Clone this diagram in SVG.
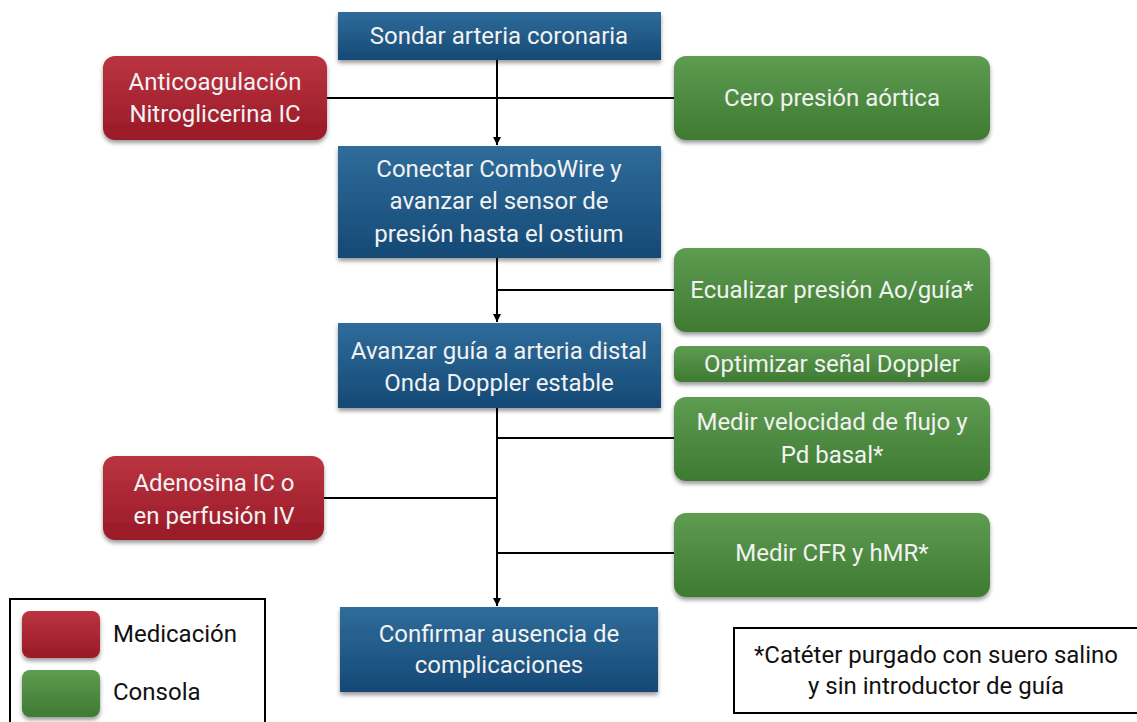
<svg xmlns="http://www.w3.org/2000/svg" width="1137" height="722" viewBox="0 0 1137 722">
<defs>
<linearGradient id="gBlue" x1="0" y1="0" x2="0" y2="1">
<stop offset="0" stop-color="#2f6c9b"/><stop offset="1" stop-color="#154975"/>
</linearGradient>
<linearGradient id="gGreen" x1="0" y1="0" x2="0" y2="1">
<stop offset="0" stop-color="#5e9c51"/><stop offset="1" stop-color="#3e7a32"/>
</linearGradient>
<linearGradient id="gRed" x1="0" y1="0" x2="0" y2="1">
<stop offset="0" stop-color="#bb3441"/><stop offset="1" stop-color="#981a27"/>
</linearGradient>
<filter id="sh" x="-10%" y="-10%" width="120%" height="130%">
<feGaussianBlur in="SourceAlpha" stdDeviation="2"/>
<feOffset dx="0" dy="3" result="b"/>
<feComponentTransfer><feFuncA type="linear" slope="0.4"/></feComponentTransfer>
<feMerge><feMergeNode/><feMergeNode in="SourceGraphic"/></feMerge>
</filter>
<marker id="arr" viewBox="0 0 10 10" refX="10" refY="5" markerWidth="8" markerHeight="8" markerUnits="userSpaceOnUse" orient="auto">
<path d="M0,0 L10,5 L0,10 z" fill="#000"/>
</marker>
</defs>
<style>
.blue{fill:url(#gBlue);filter:url(#sh)}
.green{fill:url(#gGreen);filter:url(#sh)}
.red{fill:url(#gRed);filter:url(#sh)}
.t{font-family:Roboto,"Liberation Sans",sans-serif;font-size:24px;fill:#f2f2f2;text-anchor:middle}
.k{font-family:Roboto,"Liberation Sans",sans-serif;font-size:24px;fill:#111}
.ln{stroke:#000;stroke-width:2;fill:none}
</style>
<rect width="1137" height="722" fill="#fff"/>

<g id="connectors">
<line class="ln" x1="327" y1="98" x2="674" y2="98"/>
<line class="ln" x1="497" y1="60" x2="497" y2="145" marker-end="url(#arr)"/>
<line class="ln" x1="497" y1="258" x2="497" y2="322" marker-end="url(#arr)"/>
<line class="ln" x1="497" y1="290" x2="674" y2="290"/>
<line class="ln" x1="497" y1="408" x2="497" y2="606" marker-end="url(#arr)"/>
<line class="ln" x1="497" y1="438" x2="674" y2="438"/>
<line class="ln" x1="324" y1="498" x2="497" y2="498"/>
<line class="ln" x1="497" y1="553" x2="674" y2="553"/>
</g>

<g id="sondar">
<rect class="blue" x="338" y="12" width="323" height="48"/>
<text class="t" x="499" y="44">Sondar arteria coronaria</text>
</g>
<g id="anticoagulacion">
<rect class="red" x="103" y="56" width="224" height="84" rx="12"/>
<text class="t" x="215" y="90">Anticoagulación</text>
<text class="t" x="215" y="122">Nitroglicerina IC</text>
</g>
<g id="cero">
<rect class="green" x="674" y="56" width="316" height="84" rx="12"/>
<text class="t" x="832" y="106">Cero presión aórtica</text>
</g>
<g id="conectar">
<rect class="blue" x="338" y="146" width="323" height="112"/>
<text class="t" x="499" y="177">Conectar ComboWire y</text>
<text class="t" x="499" y="209">avanzar el sensor de</text>
<text class="t" x="499" y="242">presión hasta el ostium</text>
</g>
<g id="ecualizar">
<rect class="green" x="674" y="248" width="316" height="84" rx="12"/>
<text class="t" x="832" y="298">Ecualizar presión Ao/guía*</text>
</g>
<g id="avanzar">
<rect class="blue" x="338" y="323" width="323" height="85"/>
<text class="t" x="499" y="359">Avanzar guía a arteria distal</text>
<text class="t" x="499" y="391">Onda Doppler estable</text>
</g>
<g id="optimizar">
<rect class="green" x="674" y="346" width="316" height="36" rx="7"/>
<text class="t" x="832" y="372">Optimizar señal Doppler</text>
</g>
<g id="medir-velocidad">
<rect class="green" x="674" y="397" width="316" height="84" rx="12"/>
<text class="t" x="832" y="430">Medir velocidad de flujo y</text>
<text class="t" x="832" y="463">Pd basal*</text>
</g>
<g id="adenosina">
<rect class="red" x="103" y="456" width="221" height="84" rx="12"/>
<text class="t" x="214" y="491">Adenosina IC o</text>
<text class="t" x="214" y="524">en perfusión IV</text>
</g>
<g id="medir-cfr">
<rect class="green" x="674" y="513" width="316" height="84" rx="12"/>
<text class="t" x="832" y="561">Medir CFR y hMR*</text>
</g>
<g id="confirmar">
<rect class="blue" x="340" y="607" width="318" height="85"/>
<text class="t" x="499" y="642">Confirmar ausencia de</text>
<text class="t" x="499" y="673">complicaciones</text>
</g>

<g id="legend">
<rect x="10" y="599" width="255" height="130" fill="#fff" stroke="#000" stroke-width="2"/>
<rect class="red" x="22" y="611" width="78" height="47" rx="8"/>
<rect class="green" x="22" y="670" width="78" height="47" rx="8"/>
<text class="k" x="113" y="642">Medicación</text>
<text class="k" x="113" y="700">Consola</text>
</g>
<g id="footnote">
<rect x="734" y="628" width="410" height="85" fill="#fff" stroke="#000" stroke-width="2"/>
<text class="k" x="936" y="663" text-anchor="middle">*Catéter purgado con suero salino</text>
<text class="k" x="936" y="694" text-anchor="middle">y sin introductor de guía</text>
</g>
</svg>
